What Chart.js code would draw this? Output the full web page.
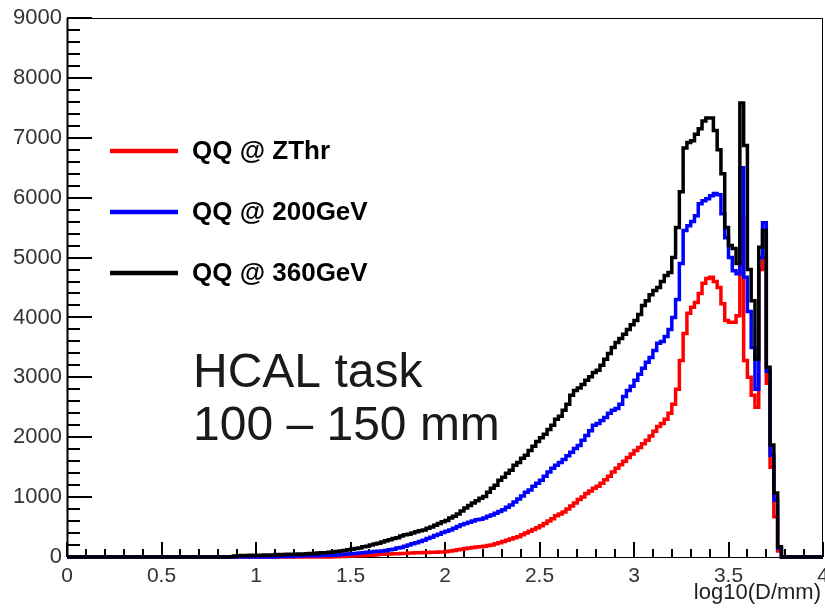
<!DOCTYPE html>
<html>
<head>
<meta charset="utf-8">
<script src="https://cdn.jsdelivr.net/npm/chart.js@4.4.0/dist/chart.umd.min.js"></script>
<style>
body { margin: 0; background: #fff; }
canvas { display: block; }
</style>
</head>
<body>
<canvas id="mycanvas" width="825" height="610"></canvas>
<script>
var seriesLabels = ['QQ @ ZThr', 'QQ @ 200GeV', 'QQ @ 360GeV'];
var seriesColors = ['#ff0000', '#0000ff', '#000000'];

// histogram bins are 0.02 wide, the arrays start at the bin 0.80-0.82
var binWidth = 0.02;
var firstBin = 0.80;
var xMin = 0, xMax = 4;
var yMin = 0, yMax = 9000;

var zthr = [
	0, 0, 0, 0, 0,  0, 0, 0, 0, 0,  0, 0, 0, 0, 0,
	0, 0, 0, 0, 0,  0, 0, 0, 0, 0,  0, 0, 0, 0, 0,
	5, 5, 10, 10, 15,  15, 20, 20, 25, 30,  30, 35, 40, 45, 50,
	50, 55, 55, 60, 60,  65, 65, 70, 70, 75,  75, 80, 80, 85, 85,
	90, 100, 110, 120, 130,  140, 150, 160, 165, 170,  180, 190, 200, 220, 240,
	260, 280, 300, 320, 340,  370, 400, 430, 460, 490,  520, 560, 600, 640, 690,
	720, 750, 800, 850, 900,  960, 1000, 1060, 1100, 1150,  1180, 1230, 1290, 1350, 1420,
	1480, 1540, 1600, 1660, 1720,  1780, 1830, 1890, 1950, 2020,  2100, 2180, 2230, 2300, 2400,
	2550, 2800, 3280, 3730, 4070,  4170, 4250, 4400, 4570, 4650,  4670, 4600, 4500, 4230, 3950,
	3920, 3920, 4030, 5650, 3280,  3000, 2700, 2500, 4800, 5000,  2900, 1500, 670, 100
];
var gev200 = [
	0, 0, 0, 0, 0,  0, 0, 0, 0, 0,  0, 0, 0, 0, 0,
	5, 10, 10, 15, 10,  15, 15, 20, 20, 20,  25, 20, 25, 30, 30,
	30, 35, 40, 45, 50,  55, 60, 65, 70, 80,  85, 90, 95, 100, 110,
	120, 130, 150, 160, 180,  200, 220, 240, 260, 280,  310, 330, 360, 380, 410,
	430, 450, 480, 510, 540,  560, 580, 600, 620, 630,  650, 680, 700, 730, 760,
	790, 830, 870, 920, 970,  1020, 1080, 1120, 1180, 1230,  1280, 1350, 1420, 1480, 1530,
	1580, 1630, 1690, 1750, 1810,  1860, 1950, 2030, 2110, 2200,  2230, 2280, 2330, 2400, 2450,
	2480, 2550, 2680, 2780, 2850,  2950, 3050, 3150, 3250, 3330,  3450, 3570, 3600, 3680, 3800,
	4000, 4300, 4900, 5450, 5530,  5600, 5700, 5900, 5950, 5980,  6030, 6070, 6050, 5730, 5330,
	5000, 4780, 4730, 6500, 4670,  4100, 3500, 2800, 5000, 5580,  3100, 1700, 950, 150
];
var gev360 = [
	0, 0, 0, 5, 15,  20, 25, 20, 30, 25,  30, 25, 35, 30, 35,
	40, 35, 40, 45, 40,  45, 50, 45, 55, 60,  55, 65, 70, 70, 80,
	85, 90, 100, 110, 120,  130, 140, 150, 170, 180,  200, 215, 230, 250, 270,
	290, 310, 320, 350, 370,  380, 400, 420, 440, 450,  480, 500, 530, 560, 590,
	610, 650, 680, 720, 770,  820, 860, 900, 940, 980,  1010, 1080, 1150, 1200, 1280,
	1330, 1400, 1450, 1530, 1580,  1650, 1700, 1780, 1850, 1930,  1990, 2050, 2130, 2200, 2300,
	2350, 2450, 2550, 2700, 2780,  2820, 2880, 2950, 3010, 3080,  3120, 3200, 3300, 3400, 3500,
	3580, 3650, 3720, 3800, 3880,  3950, 4050, 4200, 4280, 4380,  4450, 4500, 4600, 4700, 4750,
	5000, 5500, 6100, 6830, 6920,  6950, 7060, 7150, 7280, 7330,  7330, 7120, 6800, 6400, 5500,
	5200, 5150, 4900, 7580, 6870,  4800, 4280, 3300, 5170, 5450,  3170, 1870, 1070, 170
];

var noteLines = ['HCAL task', '100 \u2013 150 mm'];
var xTitle = 'log10(D/mm)';

function histPoints(values) {
	var pts = [];
	var nBins = Math.round((xMax - xMin) / binWidth);
	var offset = Math.round((firstBin - xMin) / binWidth);
	for (var i = 0; i < nBins; i++) {
		var v = values[i - offset];
		pts.push({x: xMin + i * binWidth, y: v === undefined ? 0 : v});
	}
	pts.push({x: xMax, y: 0});
	return pts;
}

// ROOT style frame, inside ticks, legend and note
var rootDecor = {
	id: 'rootDecor',
	beforeDatasetsDraw: function(chart) {
		var ctx = chart.ctx, a = chart.chartArea;
		var xs = chart.scales.x, ys = chart.scales.y;
		ctx.save();
		ctx.strokeStyle = '#000';
		ctx.lineWidth = 1;
		ctx.strokeRect(a.left + 0.5, a.top + 0.5, a.right - a.left - 1, a.bottom - a.top);
		ctx.lineWidth = 2;
		ctx.beginPath();
		ctx.moveTo(a.left + 0.5, a.top);
		ctx.lineTo(a.left + 0.5, a.bottom);
		for (var v = yMin; v <= yMax; v += 200) {
			var y = Math.round(ys.getPixelForValue(v));
			var len = v % 1000 === 0 ? 25 : 13;
			ctx.moveTo(a.left, y);
			ctx.lineTo(a.left + len, y);
		}
		for (var k = 0; k <= 40; k++) {
			var x = Math.round(xs.getPixelForValue(k / 10));
			var l2 = k % 5 === 0 ? 15 : 8;
			ctx.moveTo(x, a.bottom);
			ctx.lineTo(x, a.bottom - l2);
		}
		ctx.stroke();
		ctx.restore();
	},
	afterDraw: function(chart) {
		var ctx = chart.ctx;
		ctx.save();
		// legend
		var rows = [151, 212, 273];
		chart.data.datasets.forEach(function(ds, i) {
			ctx.strokeStyle = ds.borderColor;
			ctx.lineWidth = 4.5;
			ctx.beginPath();
			ctx.moveTo(110, rows[i]);
			ctx.lineTo(178, rows[i]);
			ctx.stroke();
			ctx.fillStyle = '#000';
			ctx.font = 'bold 26px "Liberation Sans", Arial, sans-serif';
			ctx.textBaseline = 'middle';
			ctx.textAlign = 'left';
			ctx.fillText(ds.label, 192, rows[i] + 1);
		});
		// note text
		ctx.fillStyle = '#1a1a1a';
		ctx.font = '48px "Liberation Sans", Arial, sans-serif';
		ctx.textBaseline = 'alphabetic';
		ctx.fillText(noteLines[0], 193, 387);
		ctx.fillText(noteLines[1], 193, 440);
		// x axis title
		ctx.fillStyle = '#222';
		ctx.font = '22px "Liberation Sans", Arial, sans-serif';
		ctx.textAlign = 'right';
		ctx.fillText(xTitle, 821, 599);
		ctx.restore();
	}
};

var datasets = [zthr, gev200, gev360].map(function(vals, i) {
	return {
		label: seriesLabels[i],
		data: histPoints(vals),
		borderColor: seriesColors[i],
		backgroundColor: seriesColors[i],
		borderWidth: 3.5,
		pointRadius: 0,
		stepped: 'before',
		fill: false,
		clip: false,
		borderJoinStyle: 'miter',
		order: 3 - i
	};
});

var ctx = document.getElementById('mycanvas');

var histChart = new Chart(ctx, {
	type: 'line',
	data: { datasets: datasets },
	options: {
		responsive: false,
		animation: false,
		events: [],
		layout: { padding: { left: 0, right: 2, top: 18, bottom: 0 } },
		plugins: {
			legend: { display: false },
			tooltip: { enabled: false }
		},
		scales: {
			x: {
				type: 'linear',
				min: xMin,
				max: xMax,
				grid: { display: false, drawTicks: false },
				border: { display: false },
				ticks: {
					stepSize: 0.5,
					padding: 7,
					color: '#333',
					maxRotation: 0,
					font: { family: '"Liberation Sans", Arial, sans-serif', size: 21 },
					callback: function(v) { return String(v); }
				},
				afterFit: function(s) { s.height = 53; s.paddingLeft = 0; s.paddingRight = 0; }
			},
			y: {
				min: yMin,
				max: yMax,
				grid: { display: false, drawTicks: false },
				border: { display: false },
				ticks: {
					stepSize: 1000,
					padding: 5,
					color: '#333',
					font: { family: '"Liberation Sans", Arial, sans-serif', size: 22 },
					callback: function(v) { return String(v); }
				},
				afterFit: function(s) { s.width = 67; s.paddingTop = 0; s.paddingBottom = 0; }
			}
		}
	},
	plugins: [rootDecor]
});
</script>
</body>
</html>
